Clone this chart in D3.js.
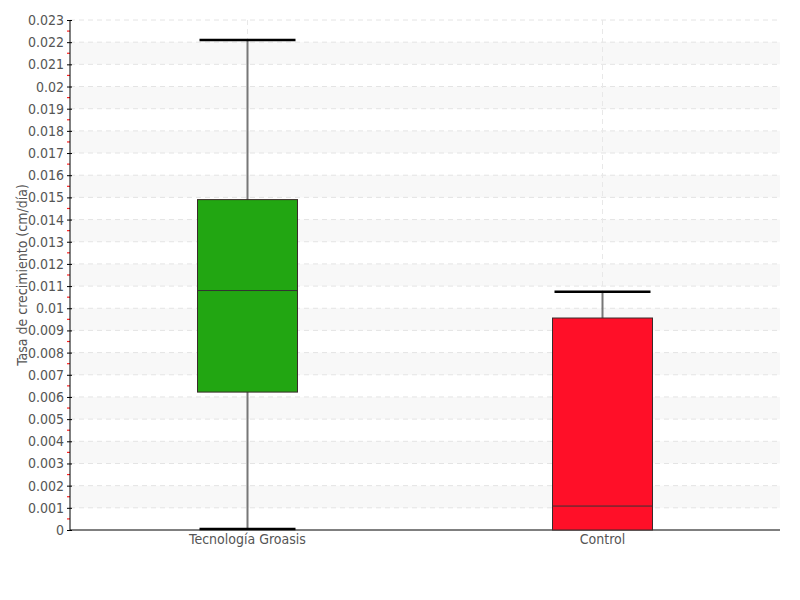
<!DOCTYPE html>
<html><head><meta charset="utf-8">
<script src="https://cdn.jsdelivr.net/npm/d3@7"></script>
<style>body{margin:0;background:#fff}svg{display:block}</style>
</head><body>
<svg id="c" width="800" height="600"></svg>
<script>
const categories = ["Tecnología Groasis", "Control"];
const whiskerLow = [0.00005, 0];
const q1 = [0.00622, 0];
const median = [0.0108, 0.00108];
const q3 = [0.0149, 0.00956];
const whiskerHigh = [0.0221, 0.01074];
const colors = ["#22A612", "#FF0F28"];
const yTicks = d3.range(0, 24).map(i => +(i * 0.001).toFixed(3));

(function () {
const svg = d3.select("#c");
const mL = 70, mR = 780, mT = 20, mB = 530;
const font = "'DejaVu Sans Condensed','Liberation Sans Narrow','DejaVu Sans',sans-serif";
const y = d3.scaleLinear().domain([0, 0.023]).range([mB, mT]);
const x = d3.scaleBand().domain(categories).range([mL, mR]).padding(0);
const cx = c => x(c) + x.bandwidth() / 2;

const g = svg.append("g");
yTicks.slice(0, -1).forEach((t, i) => {
  if (i % 2 === 1) {
    g.append("rect").attr("x", mL).attr("width", mR - mL)
      .attr("y", y(t + 0.001)).attr("height", y(t) - y(t + 0.001)).attr("fill", "#f8f8f8");
  }
});
g.selectAll("line.h").data(yTicks.slice(1)).join("line").attr("class", "h")
  .attr("x1", mL).attr("x2", mR).attr("y1", d => y(d)).attr("y2", d => y(d))
  .attr("stroke", "#e4e4e4").attr("stroke-dasharray", "5,4");
g.selectAll("line.v").data(categories).join("line").attr("class", "v")
  .attr("x1", d => cx(d)).attr("x2", d => cx(d)).attr("y1", mT).attr("y2", mB)
  .attr("stroke", "#e8e8e8").attr("stroke-dasharray", "5,4");

svg.append("g").selectAll("line").data(yTicks.slice(0, -1)).join("line")
  .attr("x1", mL - 3).attr("x2", mL).attr("y1", d => y(d + 0.0005)).attr("y2", d => y(d + 0.0005))
  .attr("stroke", "#ff2020").attr("stroke-width", 1.2);

const yAx = svg.append("g").attr("transform", `translate(${mL},0)`)
  .call(d3.axisLeft(y).tickValues(yTicks).tickSize(3).tickPadding(3).tickFormat(d => String(d)));
yAx.select(".domain").attr("stroke", "#000").attr("d", `M0,${mT}V${mB}`);
yAx.selectAll(".tick line").attr("stroke", "#000").attr("x2", -3).attr("x1", 2);
yAx.selectAll("text").attr("font-family", font).attr("font-size", 14).attr("fill", "#555");

const xAx = svg.append("g").attr("transform", `translate(0,${mB})`)
  .call(d3.axisBottom(x).tickSize(0).tickPadding(4));
xAx.select(".domain").attr("stroke", "#000").attr("d", `M${mL},0H${mR}`);
xAx.selectAll("text").attr("font-family", font).attr("font-size", 14).attr("fill", "#555");

const bw = 100, capW = 96;
categories.forEach((c, i) => {
  const X = cx(c);
  const bg = svg.append("g");
  bg.append("line").attr("x1", X).attr("x2", X).attr("y1", y(whiskerHigh[i])).attr("y2", y(whiskerLow[i]))
    .attr("stroke", "#777").attr("stroke-width", 2);
  bg.append("rect").attr("x", X - bw / 2).attr("width", bw)
    .attr("y", y(q3[i])).attr("height", y(q1[i]) - y(q3[i]))
    .attr("fill", colors[i]).attr("stroke", "#3a2a2a").attr("stroke-width", 1);
  bg.append("line").attr("x1", X - bw / 2).attr("x2", X + bw / 2).attr("y1", y(median[i])).attr("y2", y(median[i]))
    .attr("stroke", "#333").attr("stroke-width", 1);
  [whiskerHigh[i], whiskerLow[i]].forEach(v => {
    if (v === 0 && q1[i] === 0) return;
    bg.append("line").attr("x1", X - capW / 2).attr("x2", X + capW / 2).attr("y1", y(v)).attr("y2", y(v))
      .attr("stroke", "#000").attr("stroke-width", 2.5);
  });
});

svg.append("text").attr("transform", `translate(27,${(mT + mB) / 2}) rotate(-90)`)
  .attr("text-anchor", "middle").attr("font-family", font).attr("font-size", 14).attr("fill", "#555")
  .text("Tasa de crecimiento (cm/día)");
})();
</script>
</body></html>
